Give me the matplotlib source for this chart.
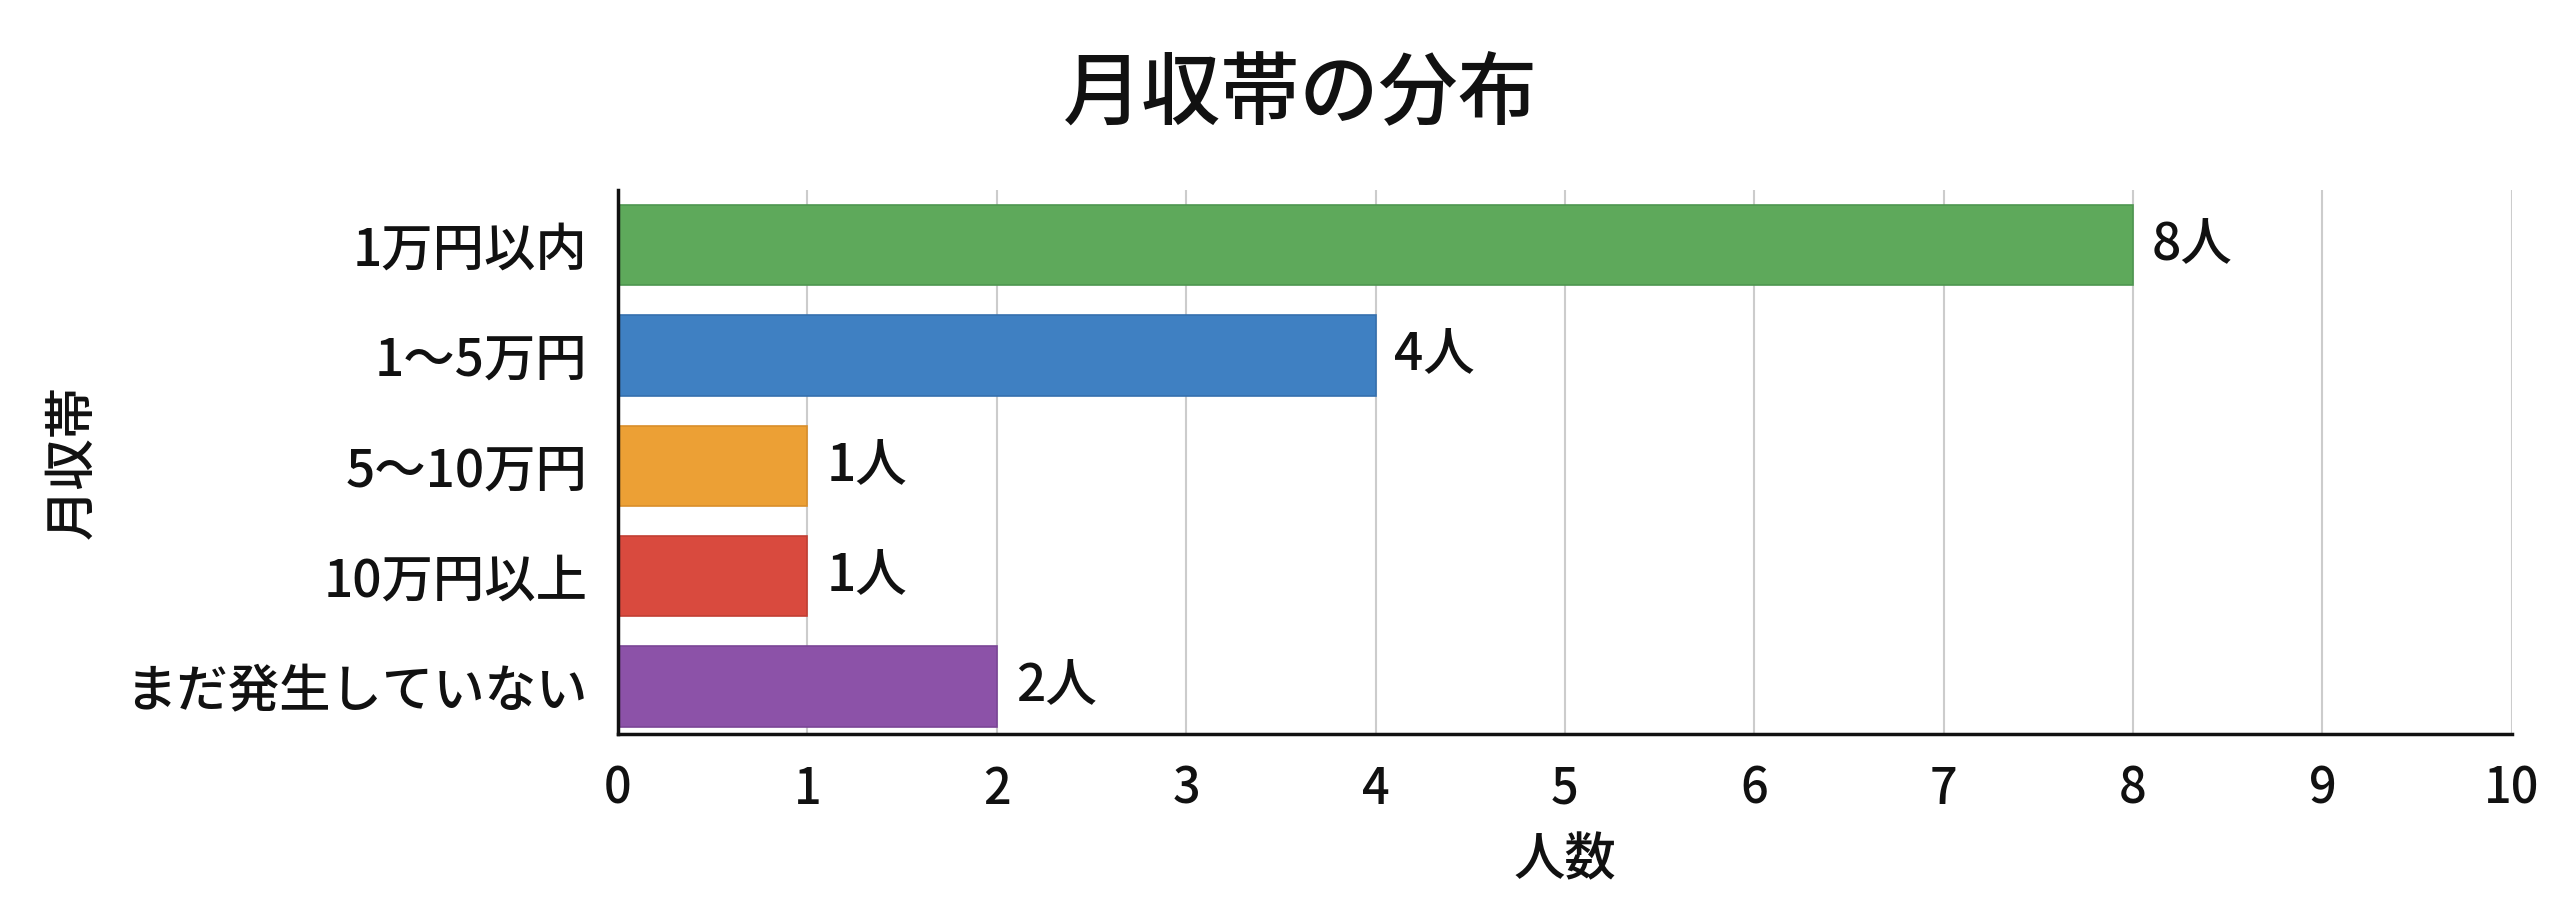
import matplotlib
matplotlib.use("Agg")
import matplotlib.pyplot as plt

plt.rcParams['font.family'] = ['Noto Sans CJK JP', 'DejaVu Sans']
plt.rcParams['font.weight'] = 'medium'
plt.rcParams['axes.labelweight'] = 'medium'

categories = ["1万円以内", "1〜5万円", "5〜10万円", "10万円以上", "まだ発生していない"]
counts = [8, 4, 1, 1, 2]
bar_labels = ["8人", "4人", "1人", "1人", "2人"]
colors = ["#5EA95B", "#3F80C2", "#ECA035", "#D94A3E", "#8C52A8"]
edge_colors = ["#4E9650", "#3570AE", "#D98E2A", "#C23E33", "#7A4596"]
xticks = list(range(0, 11))

fig = plt.figure(figsize=(25.6, 8.97), dpi=100)
ax = fig.add_axes([0.2414, 0.1817, 0.7398, 0.6065])

ypos = list(range(len(categories)))
bars = ax.barh(ypos, counts, height=0.73, color=colors, edgecolor=edge_colors,
               linewidth=1.2, zorder=3)

ax.set_ylim(4.43, -0.5)
ax.set_xlim(0, 10)
ax.set_xticks(xticks)
ax.set_xticklabels([str(t) for t in xticks])
ax.set_yticks(ypos)
ax.set_yticklabels(categories)

ax.grid(axis='x', color='#CCCCCC', linewidth=1.5, zorder=0)
ax.grid(axis='y', visible=False)
ax.set_axisbelow(True)

for s in ['top', 'right']:
    ax.spines[s].set_visible(False)
for s in ['left', 'bottom']:
    ax.spines[s].set_color('#111111')
    ax.spines[s].set_linewidth(2.5)
    ax.spines[s].set_zorder(4)

ax.tick_params(axis='y', length=0, labelsize=37, colors='#111111', pad=22)
ax.tick_params(axis='x', length=0, labelsize=35, colors='#111111', pad=22)

for b, lab in zip(bars, bar_labels):
    ax.text(b.get_width() + 0.1, b.get_y() + b.get_height() / 2, lab,
            va='center', ha='left', fontsize=37, color='#111111', zorder=5)

xl = ax.set_xlabel("人数", fontsize=37, color='#111111', fontweight='medium')
xl.set_va('center')
ax.xaxis.set_label_coords(0.5, -0.233)
yl = ax.set_ylabel("月収帯", fontsize=37, color='#111111', fontweight='medium')
yl.set_va('center')
ax.yaxis.set_label_coords(-0.288, 0.5)

fig.text(0.508, 0.893, "月収帯の分布", ha='center', va='center', fontsize=57,
         color='#111111')

fig.savefig("out.png", dpi=100, facecolor='white')
